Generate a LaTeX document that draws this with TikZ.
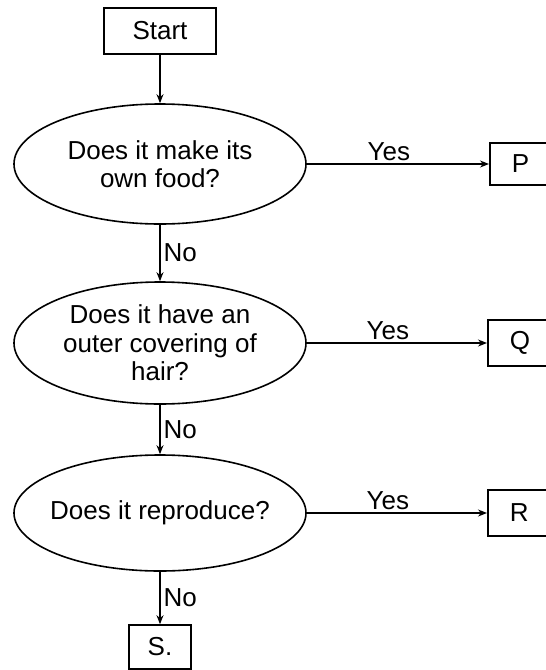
\documentclass[tikz,border=0pt]{standalone}
\usepackage{fontspec}
\setmainfont{Liberation Sans}
\usetikzlibrary{arrows.meta, shapes.geometric}
\tikzset{
  every picture/.style={line width=1.6pt},
  box/.style={draw, rectangle, minimum height=#1, inner sep=0pt},
  box/.default=46pt,
  sidebox/.style={box=#1, anchor=west, text width=80pt, align=left, inner xsep=22pt},
  sidebox/.default=46pt,
  question/.style={draw, ellipse, minimum width=292pt, minimum height=#1, inner xsep=-30pt, inner ysep=0pt, align=center},
  question/.default=120pt,
  arrow/.style={-{Stealth[length=9pt, width=7pt]}, line width=1.4pt},
  lbl/.style={inner sep=3pt},
}

\begin{document}
\begin{tikzpicture}[x=1pt, y=-1pt, font=\fontsize{26}{28.5}\selectfont]
  \clip (0,0) rectangle (546,670);
  % main column
  \node[box, minimum width=112pt] (start) at (160,31) {Start};
  \node[question] (q1) at (160,164) {Does it make its\\own food?};
  \node[question=122pt] (q2) at (160,343) {Does it have an\\outer covering of\\hair?};
  \node[question=116pt] (q3) at (160,513) {Does it reproduce?};
  \node[box=44pt, minimum width=62pt] (s) at (160,647) {S.};
  % answers on the right, cut by the page edge
  \node[sidebox=42pt] (p) at (489,164) {P};
  \node[sidebox] (q) at (487,343) {Q};
  \node[sidebox] (r) at (487,513) {R};
  % connectors
  \draw[arrow] (start) -- (q1);
  \draw[arrow] (q1) -- node[right, lbl] {No} (q2);
  \draw[arrow] (q2) -- node[right, lbl] {No} (q3);
  \draw[arrow] (q3) -- node[right, lbl] {No} (s);
  \draw[arrow] (q1) -- node[above, lbl, pos=0.45] {Yes} (p);
  \draw[arrow] (q2) -- node[above, lbl, pos=0.45] {Yes} (q);
  \draw[arrow] (q3) -- node[above, lbl, pos=0.45] {Yes} (r);
\end{tikzpicture}
\end{document}
